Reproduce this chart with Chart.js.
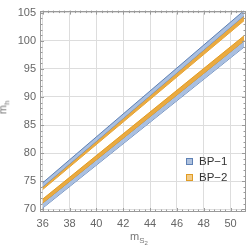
<!DOCTYPE html>
<html><head><meta charset="utf-8">
<script src="https://cdn.jsdelivr.net/npm/chart.js@4"></script>
<style>
html,body{margin:0;padding:0;background:#fff;}
#wrap{position:relative;width:250px;height:251px;}
canvas{position:absolute;left:0;top:0;}
.t{position:absolute;font-family:"Liberation Sans",Arial,sans-serif;color:#777;font-size:11px;white-space:nowrap;}
.t sub{font-size:8px;vertical-align:-3px;}
.t sub sub{font-size:6px;vertical-align:-2px;}
.leg{position:absolute;font-family:"Liberation Sans",Arial,sans-serif;font-size:11.5px;color:#333;white-space:nowrap;}
.sq{display:inline-block;width:5px;height:5px;margin-right:6px;vertical-align:0px;}
</style></head>
<body><div id="wrap"><canvas id="c" width="250" height="251"></canvas>
<div class="t" style="left:130px;top:230px;">m<sub>S<sub>2</sub></sub></div>
<div class="t" style="left:-3px;top:100px;transform:rotate(-90deg);transform-origin:center;">m<sub>h</sub></div>
<div class="leg" style="left:186px;top:155px;"><span class="sq" style="background:#aec1de;border:1px solid #5e81b5"></span>BP−1</div>
<div class="leg" style="left:186px;top:171px;"><span class="sq" style="background:#f2cc8a;border:1px solid #e19c24"></span>BP−2</div>
</div>
<script>
const xs = [36, 51];
const bp1UpperHi = [74.7, 105.4];
const bp1UpperLo = [74.0, 104.5];
const bp2UpperHi = [74.0, 104.5];
const bp2UpperLo = [73.5, 103.6];
const bp2LowerHi = [71.8, 100.9];
const bp2LowerLo = [71.1, 100.0];
const bp1LowerHi = [71.1, 100.0];
const bp1LowerLo = [70.2, 98.9];
const xTicks = [36, 38, 40, 42, 44, 46, 48, 50];
const yTicks = [70, 75, 80, 85, 90, 95, 100, 105];

const pts = arr => xs.map((x, i) => ({x: x, y: arr[i]}));
const BLUE = '#5e81b5', BLUEF = '#a9bfe0', ORANGE = '#e19c24', ORANGEF = '#eaaa40';
function band(hi, lo, edge, fillc) {
  return [
    {data: pts(hi), borderColor: edge, borderWidth: 1, backgroundColor: fillc, fill: '+1', pointRadius: 0, tension: 0},
    {data: pts(lo), borderColor: edge, borderWidth: 1, fill: false, pointRadius: 0, tension: 0}
  ];
}
const datasets = [].concat(
  band(bp1UpperHi, bp1UpperLo, BLUE, BLUEF),
  band(bp2UpperHi, bp2UpperLo, ORANGE, ORANGEF),
  band(bp2LowerHi, bp2LowerLo, ORANGE, ORANGEF),
  band(bp1LowerHi, bp1LowerLo, BLUE, BLUEF)
);

const frameTicks = {
  id: 'frameTicks',
  afterDatasetsDraw(chart) {
    const {ctx, chartArea: a, scales: {x, y}} = chart;
    ctx.save();
    ctx.strokeStyle = '#9a9a9a';
    ctx.lineWidth = 1;
    ctx.strokeRect(Math.round(a.left) + 0.5, Math.round(a.top) + 0.5, Math.round(a.right - a.left) - 1, Math.round(a.bottom - a.top) - 1);
    ctx.beginPath();
    const step = 0.4;
    for (let k = Math.ceil(x.min / step); k * step <= x.max; k++) {
      const v = k * step;
      const major = Math.abs(v / 2 - Math.round(v / 2)) < 1e-6;
      const L = major ? 4 : 2.5;
      const px = Math.round(x.getPixelForValue(v)) + 0.5;
      ctx.moveTo(px, a.bottom); ctx.lineTo(px, a.bottom - L);
      ctx.moveTo(px, a.top); ctx.lineTo(px, a.top + L);
    }
    for (let v = Math.ceil(y.min); v <= y.max; v++) {
      const major = v % 5 === 0;
      const L = major ? 4 : 2.5;
      const py = Math.round(y.getPixelForValue(v)) + 0.5;
      ctx.moveTo(a.left, py); ctx.lineTo(a.left + L, py);
      ctx.moveTo(a.right, py); ctx.lineTo(a.right - L, py);
    }
    ctx.stroke();
    ctx.restore();
  }
};

new Chart(document.getElementById('c'), {
  type: 'line',
  data: {datasets},
  options: {
    responsive: false, animation: false,
    layout: {padding: {top: 5, right: 4, left: 0, bottom: 0}},
    plugins: {legend: {display: false}, tooltip: {enabled: false}},
    scales: {
      x: {
        type: 'linear', min: 35.8, max: 51.15,
        afterBuildTicks: s => { s.ticks = xTicks.map(v => ({value: v})); },
        afterFit: s => { s.height = 39; },
        grid: {color: '#dddddd', drawTicks: false},
        border: {display: false},
        ticks: {padding: 5, color: '#666', font: {family: 'Liberation Sans', size: 11}, maxRotation: 0}
      },
      y: {
        type: 'linear', min: 69.5, max: 105.4,
        afterBuildTicks: s => { s.ticks = yTicks.map(v => ({value: v})); },
        afterFit: s => { s.width = 40; },
        grid: {color: '#dddddd', drawTicks: false},
        border: {display: false},
        ticks: {padding: 4, color: '#666', font: {family: 'Liberation Sans', size: 11}}
      }
    }
  },
  plugins: [frameTicks]
});
</script></body></html>
